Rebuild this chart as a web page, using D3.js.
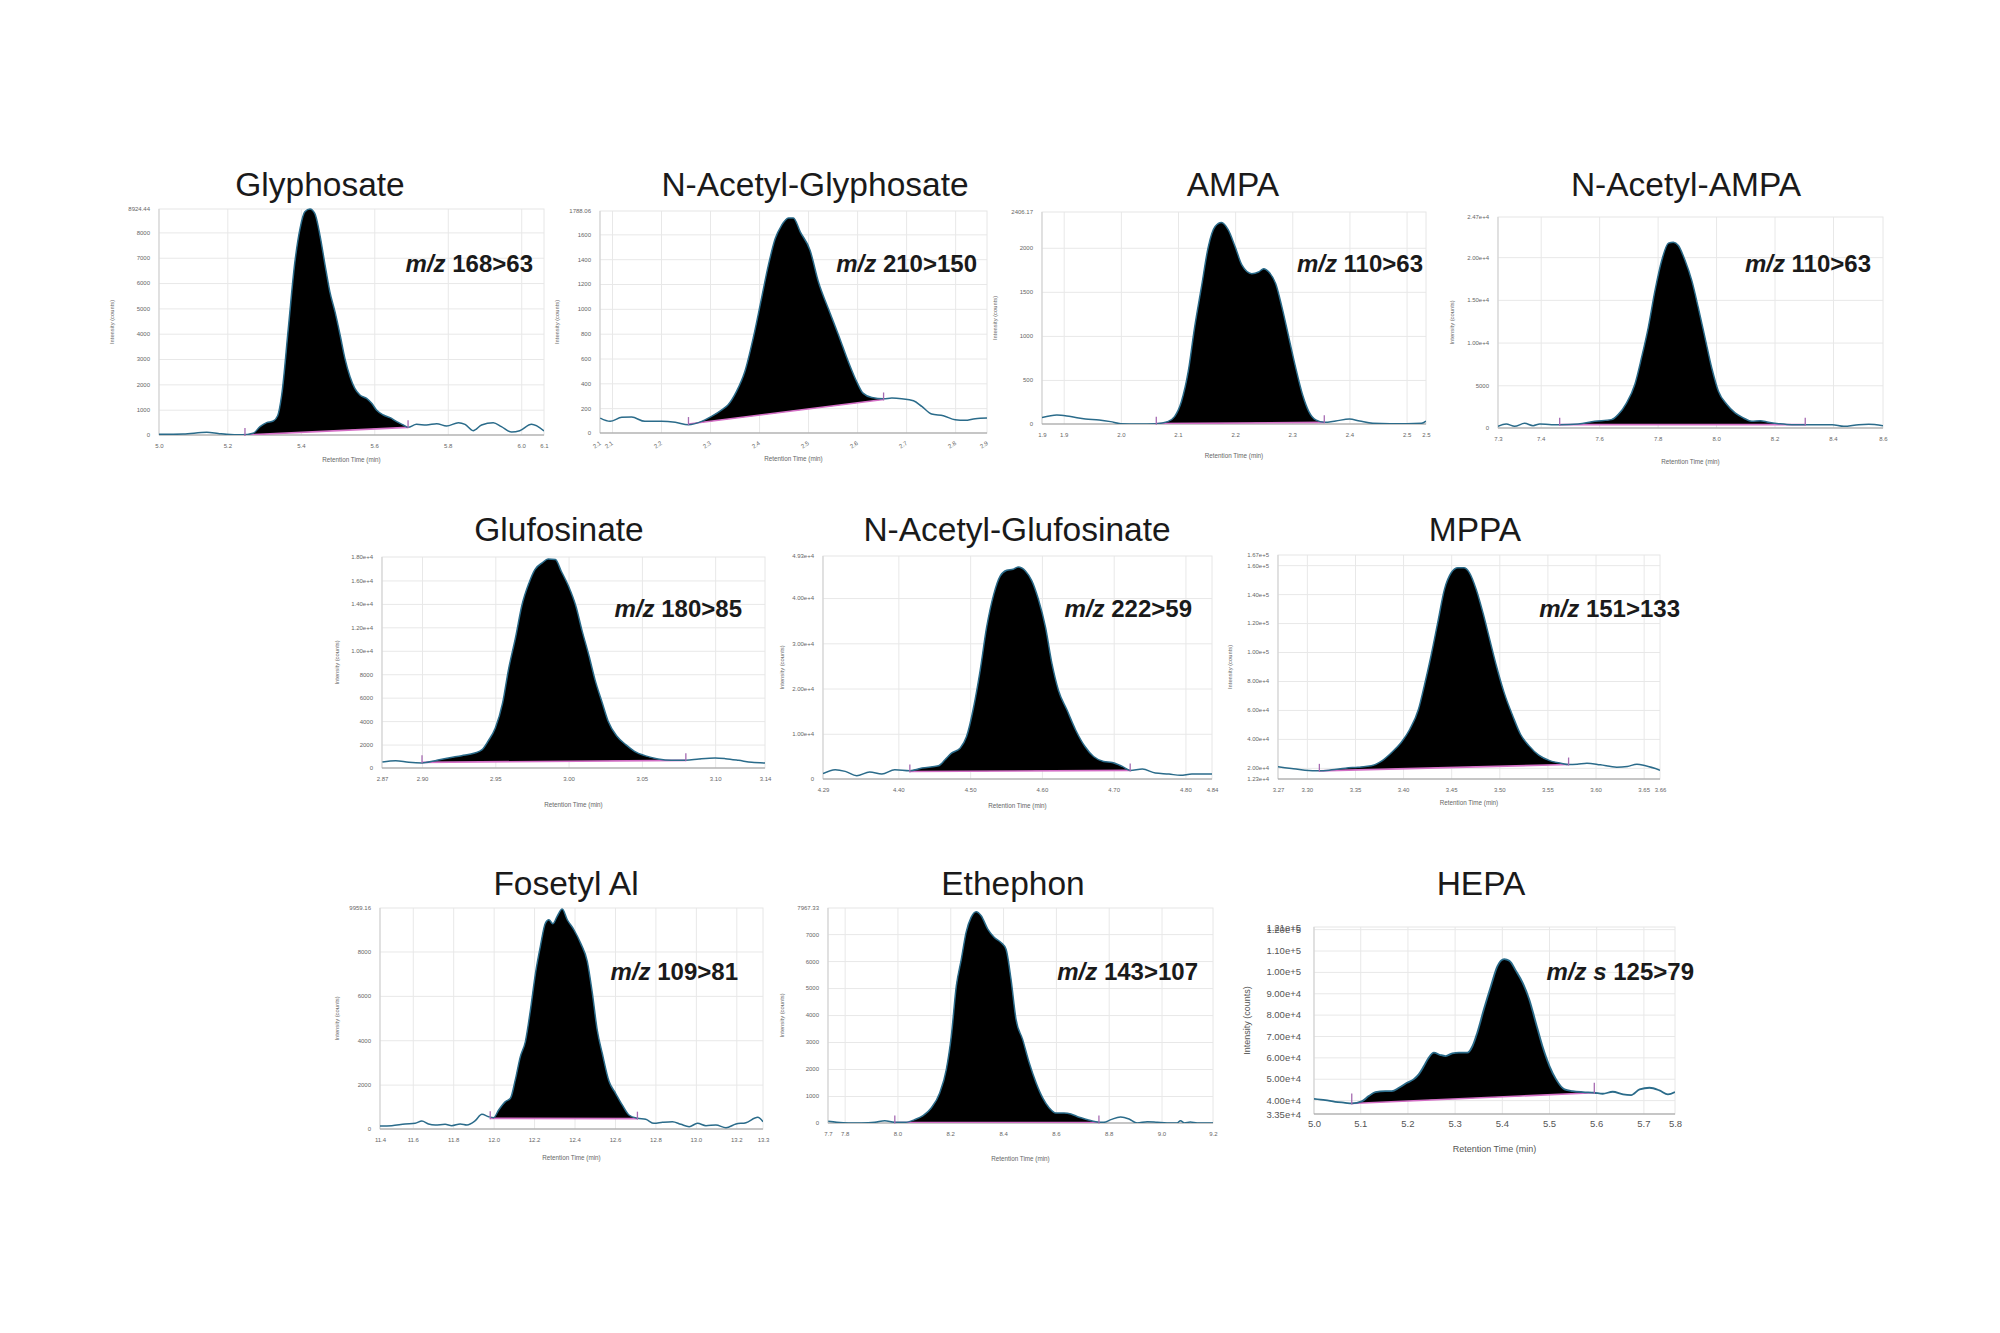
<!DOCTYPE html>
<html><head><meta charset="utf-8">
<script src="https://cdn.jsdelivr.net/npm/d3@7"></script>
<style>body{margin:0;background:#fff}svg{display:block}</style>
</head><body>
<svg id="c" width="2000" height="1333"></svg>
<script>
// ---------------- DATA ----------------
const compoundNames = ["Glyphosate","N-Acetyl-Glyphosate","AMPA","N-Acetyl-AMPA","Glufosinate","N-Acetyl-Glufosinate","MPPA","Fosetyl Al","Ethephon","HEPA"];
const transitionPrefixes = ["m/z","m/z","m/z","m/z","m/z","m/z","m/z","m/z","m/z","m/z s"];
const transitionIons = ["168>63","210>150","110>63","110>63","180>85","222>59","151>133","109>81","143>107","125>79"];

const xDomains = [[5.014,6.062],[2.0755,2.865],[1.862,2.534],[7.254,8.571],[2.8727,3.134],[4.295,4.837],[3.27,3.667],[11.438,13.332],[7.737,9.195],[5.002,5.767]];
const xTickValues = [
  [5.2,5.4,5.6,5.8,6.0],
  [2.1,2.2,2.3,2.4,2.5,2.6,2.7,2.8],
  [1.9,2.0,2.1,2.2,2.3,2.4,2.5],
  [7.4,7.6,7.8,8.0,8.2,8.4],
  [2.90,2.95,3.00,3.05,3.10],
  [4.40,4.50,4.60,4.70,4.80],
  [3.30,3.35,3.40,3.45,3.50,3.55,3.60,3.65],
  [11.6,11.8,12.0,12.2,12.4,12.6,12.8,13.0,13.2],
  [7.8,8.0,8.2,8.4,8.6,8.8,9.0],
  [5.1,5.2,5.3,5.4,5.5,5.6,5.7]
];
const xTickDecimals = [1,1,1,1,2,2,2,1,1,1];
const xEndLabels = [["5.0","6.1"],["2.1","2.9"],["1.9","2.5"],["7.3","8.6"],["2.87","3.14"],["4.29","4.84"],["3.27","3.66"],["11.4","13.3"],["7.7","9.2"],["5.0","5.8"]];

const yDomains = [[0,8924.44],[0,1788.06],[0,2406.17],[0,24700],[0,18000],[0,49300],[12300,167000],[0,9959.16],[0,7967.33],[33500,121000]];
const yTickValues = [
  [0,1000,2000,3000,4000,5000,6000,7000,8000],
  [0,200,400,600,800,1000,1200,1400,1600],
  [0,500,1000,1500,2000],
  [0,5000,10000,15000,20000],
  [0,2000,4000,6000,8000,10000,12000,14000,16000],
  [0,10000,20000,30000,40000],
  [20000,40000,60000,80000,100000,120000,140000,160000],
  [0,2000,4000,6000,8000],
  [0,1000,2000,3000,4000,5000,6000,7000],
  [40000,50000,60000,70000,80000,90000,100000,110000,120000]
];
const yEndLabels = [["","8924.44"],["","1788.06"],["","2406.17"],["","2.47e+4"],["","1.80e+4"],["","4.93e+4"],["1.23e+4","1.67e+5"],["","9959.16"],["","7967.33"],["3.35e+4","1.21e+5"]];

const traceGlyphosate = [[5.014,26],[5.08,40],[5.144,105],[5.175,60],[5.198,26],[5.24,5],[5.27,66],[5.289,329],[5.307,487],[5.325,553],[5.337,760],[5.348,1579],[5.366,4211],[5.384,6843],[5.398,8159],[5.411,8817],[5.425,8923],[5.438,8752],[5.452,7896],[5.466,6712],[5.479,5659],[5.493,4869],[5.507,3948],[5.52,3027],[5.534,2303],[5.547,1842],[5.561,1579],[5.579,1448],[5.593,1250],[5.606,987],[5.625,790],[5.643,684],[5.661,526],[5.679,395],[5.692,303],[5.715,421],[5.742,395],[5.77,447],[5.797,355],[5.829,487],[5.847,421],[5.869,171],[5.892,395],[5.924,487],[5.946,329],[5.974,118],[5.996,171],[6.028,421],[6.062,158]];
const baselineGlyphosate = [[5.248,0],[5.692,303]];

const traceNAcetylGlyphosate = [[2.076,120],[2.096,94],[2.12,126],[2.14,128],[2.167,94],[2.201,94],[2.229,86],[2.256,67],[2.283,94],[2.303,134],[2.324,187],[2.337,228],[2.354,335],[2.371,495],[2.388,763],[2.405,1084],[2.419,1352],[2.433,1566],[2.446,1673],[2.46,1732],[2.47,1732],[2.484,1620],[2.504,1472],[2.521,1218],[2.541,1004],[2.562,790],[2.582,576],[2.599,415],[2.612,321],[2.63,286],[2.654,276],[2.671,281],[2.691,276],[2.715,260],[2.732,214],[2.752,153],[2.776,139],[2.8,107],[2.82,102],[2.841,115],[2.865,120]];
const baselineNAcetylGlyphosate = [[2.256,72],[2.654,270]];

const traceAMPA = [[1.862,73],[1.888,103],[1.912,84],[1.938,57],[1.962,46],[1.982,27],[2.0,4],[2.029,0],[2.062,4],[2.082,27],[2.094,84],[2.106,256],[2.118,599],[2.129,1095],[2.141,1553],[2.153,2011],[2.165,2241],[2.176,2286],[2.188,2202],[2.2,2011],[2.212,1802],[2.229,1706],[2.241,1725],[2.25,1763],[2.259,1725],[2.271,1592],[2.282,1324],[2.294,981],[2.306,637],[2.318,332],[2.329,141],[2.341,46],[2.356,19],[2.376,34],[2.4,57],[2.418,34],[2.441,8],[2.471,4],[2.5,4],[2.526,8],[2.534,34]];
const baselineAMPA = [[2.062,4],[2.356,19]];

const traceNAcetylAMPA = [[7.254,196],[7.282,470],[7.311,196],[7.345,549],[7.374,274],[7.397,470],[7.437,392],[7.465,392],[7.528,470],[7.585,784],[7.642,980],[7.665,1568],[7.694,2940],[7.722,5096],[7.745,8232],[7.768,11760],[7.791,16072],[7.814,19600],[7.837,21638],[7.854,21756],[7.871,21364],[7.894,19600],[7.917,17248],[7.939,14112],[7.962,10584],[7.985,7056],[8.008,4312],[8.037,2744],[8.065,1764],[8.094,1176],[8.122,784],[8.151,862],[8.179,666],[8.214,510],[8.259,392],[8.305,392],[8.351,392],[8.397,392],[8.437,196],[8.488,392],[8.522,431],[8.571,274]];
const baselineNAcetylAMPA = [[7.465,392],[8.305,392]];

const traceGlufosinate = [[2.873,512],[2.882,626],[2.891,484],[2.9,427],[2.909,626],[2.918,853],[2.927,1053],[2.936,1280],[2.941,1565],[2.945,2276],[2.95,3414],[2.955,5548],[2.959,8393],[2.964,11238],[2.968,13798],[2.973,15790],[2.977,16928],[2.982,17497],[2.986,17838],[2.991,17781],[2.995,16786],[3.0,15505],[3.005,13798],[3.009,11807],[3.014,9531],[3.018,7539],[3.023,5548],[3.027,3983],[3.033,2703],[3.039,1992],[3.045,1423],[3.052,1053],[3.061,768],[3.07,654],[3.08,654],[3.089,768],[3.1,853],[3.107,797],[3.116,654],[3.125,484],[3.134,427]];
const baselineGlufosinate = [[2.9,484],[3.08,654]];

const traceNAcetylGlufosinate = [[4.295,1172],[4.312,2051],[4.326,1685],[4.342,733],[4.36,1538],[4.377,1099],[4.395,2051],[4.416,1832],[4.433,2418],[4.456,2930],[4.465,4249],[4.474,5714],[4.486,6813],[4.495,9377],[4.505,15971],[4.514,24029],[4.523,33553],[4.533,40879],[4.542,44908],[4.551,46154],[4.56,46374],[4.567,46886],[4.577,46007],[4.586,43809],[4.595,39780],[4.605,33553],[4.614,25494],[4.623,19634],[4.635,15238],[4.647,10842],[4.66,7179],[4.672,4982],[4.686,3883],[4.698,3663],[4.712,2784],[4.723,1905],[4.74,2198],[4.758,1319],[4.777,1099],[4.793,806],[4.809,1099],[4.837,1099]];
const baselineNAcetylGlufosinate = [[4.416,1650],[4.723,1905]];

const traceMPPA = [[3.27,20690],[3.284,19540],[3.298,18390],[3.313,17930],[3.326,18620],[3.34,19770],[3.353,20460],[3.367,21380],[3.378,24830],[3.388,30570],[3.398,37470],[3.407,46670],[3.416,60460],[3.422,76560],[3.429,97250],[3.436,120240],[3.443,143230],[3.45,154720],[3.457,158170],[3.463,158170],[3.469,154720],[3.476,143230],[3.483,127130],[3.49,108740],[3.497,90350],[3.505,71960],[3.514,55860],[3.522,43220],[3.531,35170],[3.541,28740],[3.553,24830],[3.564,23220],[3.572,22300],[3.581,22530],[3.591,23220],[3.605,22070],[3.622,20460],[3.633,20920],[3.643,22530],[3.652,21380],[3.667,18390]];
const baselineMPPA = [[3.313,17930],[3.572,22300]];

const traceFosetylAl = [[11.438,135],[11.496,150],[11.562,226],[11.612,256],[11.645,361],[11.678,226],[11.711,180],[11.76,211],[11.793,150],[11.835,226],[11.868,180],[11.909,376],[11.942,662],[11.975,556],[12.0,511],[12.025,857],[12.058,1233],[12.083,1384],[12.107,2211],[12.132,3264],[12.157,3940],[12.182,5369],[12.207,7024],[12.231,8227],[12.256,9279],[12.273,9430],[12.293,9249],[12.314,9580],[12.339,9911],[12.364,9430],[12.397,8979],[12.43,8377],[12.463,7550],[12.488,6121],[12.512,4467],[12.537,3414],[12.571,2136],[12.603,1609],[12.636,1083],[12.669,632],[12.711,481],[12.752,436],[12.793,256],[12.835,301],[12.884,331],[12.926,211],[12.967,105],[13.008,256],[13.05,150],[13.099,180],[13.149,60],[13.198,226],[13.248,286],[13.306,526],[13.332,331]];
const baselineFosetylAl = [[11.983,481],[12.711,466]];

const traceEthephon = [[7.738,62],[7.77,25],[7.814,0],[7.864,0],[7.914,25],[7.952,87],[7.99,25],[8.028,25],[8.065,124],[8.097,273],[8.128,558],[8.16,1115],[8.185,1982],[8.204,3221],[8.223,5080],[8.242,6071],[8.26,7062],[8.279,7620],[8.298,7830],[8.317,7682],[8.342,7186],[8.367,6876],[8.392,6691],[8.411,6443],[8.43,5328],[8.449,3841],[8.474,3098],[8.499,2230],[8.525,1487],[8.55,929],[8.575,558],[8.6,372],[8.631,372],[8.657,335],[8.688,211],[8.72,124],[8.751,50],[8.782,25],[8.808,124],[8.845,223],[8.877,149],[8.908,0],[8.946,50],[8.984,25],[9.021,0],[9.059,0],[9.072,87],[9.087,0],[9.109,37],[9.135,0],[9.195,0]];
const baselineEthephon = [[7.99,15],[8.763,15]];

const traceHEPA = [[5.002,40625],[5.026,40000],[5.047,39219],[5.068,38750],[5.082,38438],[5.104,39531],[5.118,41875],[5.132,43750],[5.153,44219],[5.167,44219],[5.182,45781],[5.199,48125],[5.213,49688],[5.224,52031],[5.235,55938],[5.245,59844],[5.256,62188],[5.27,61094],[5.281,60625],[5.295,61875],[5.309,62188],[5.327,62188],[5.338,65313],[5.348,71563],[5.362,82500],[5.377,93438],[5.391,102813],[5.405,105938],[5.416,105156],[5.43,100469],[5.444,95000],[5.458,87188],[5.472,76250],[5.486,65313],[5.501,55938],[5.515,49688],[5.533,45000],[5.55,44219],[5.572,43750],[5.596,43438],[5.614,42969],[5.635,43906],[5.657,42656],[5.674,42344],[5.692,45000],[5.713,45781],[5.734,44531],[5.752,42656],[5.767,43750]];
const baselineHEPA = [[5.082,38438],[5.596,43438]];

const traces = [traceGlyphosate,traceNAcetylGlyphosate,traceAMPA,traceNAcetylAMPA,traceGlufosinate,traceNAcetylGlufosinate,traceMPPA,traceFosetylAl,traceEthephon,traceHEPA];
const baselines = [baselineGlyphosate,baselineNAcetylGlyphosate,baselineAMPA,baselineNAcetylAMPA,baselineGlufosinate,baselineNAcetylGlufosinate,baselineMPPA,baselineFosetylAl,baselineEthephon,baselineHEPA];

// ---------------- LAYOUT ----------------
const panelLayout = [
  {x0:159, x1:544, y0:209, y1:435, tx:320, ty:196, mx:533, my:272, ylx:112, xly:460},
  {x0:600, x1:987, y0:211, y1:433, tx:815, ty:196, mx:977, my:272, ylx:557, xly:459, rot:true},
  {x0:1042,x1:1426,y0:212, y1:424, tx:1233,ty:196, mx:1423,my:272, ylx:995, xly:456},
  {x0:1498,x1:1883,y0:217, y1:428, tx:1686,ty:196, mx:1871,my:272, ylx:1452,xly:462},
  {x0:382, x1:765, y0:557, y1:768, tx:559, ty:541, mx:742, my:617, ylx:337, xly:805},
  {x0:823, x1:1212,y0:556, y1:779, tx:1017,ty:541, mx:1192,my:617, ylx:782, xly:806},
  {x0:1278,x1:1660,y0:555, y1:779, tx:1475,ty:541, mx:1680,my:617, ylx:1230,xly:803},
  {x0:380, x1:763, y0:908, y1:1129,tx:566, ty:895, mx:738, my:980, ylx:337, xly:1158},
  {x0:828, x1:1213,y0:908, y1:1123,tx:1013,ty:895, mx:1198,my:980, ylx:782, xly:1159},
  {x0:1314,x1:1675,y0:927, y1:1114,tx:1481,ty:895, mx:1694,my:980, ylx:1248,xly:1150, big:true}
];

const svg = d3.select("#c");
svg.append("rect").attr("width",2000).attr("height",1333).attr("fill","#fff");

const fmtY = v => v >= 10000 ? d3.format(".2e")(v) : String(v);
const FONT = "'Liberation Sans', Arial, Helvetica, sans-serif";

function interp(pts, t) {
  for (let i = 0; i < pts.length - 1; i++) {
    const a = pts[i], b = pts[i+1];
    if (t >= a[0] && t <= b[0]) return a[1] + (b[1]-a[1]) * (t-a[0])/(b[0]-a[0]);
  }
  return pts[pts.length-1][1];
}

compoundNames.forEach((name, i) => {
  const L = panelLayout[i];
  const xd = xDomains[i], yd = yDomains[i];
  const x = d3.scaleLinear().domain(xd).range([L.x0, L.x1]);
  const y = d3.scaleLinear().domain(yd).range([L.y1, L.y0]);
  const fs = L.big ? 9.5 : 6;
  const g = svg.append("g").attr("font-family", FONT);
  const W = L.x1 - L.x0, H = L.y1 - L.y0;

  // grid
  g.append("g").attr("transform", `translate(0,${L.y1})`)
    .call(d3.axisBottom(x).tickValues(xTickValues[i]).tickSize(-H).tickFormat(""))
    .call(s => s.select(".domain").remove())
    .call(s => s.selectAll("line").attr("stroke", "#e8e8e8"));
  g.append("g").attr("transform", `translate(${L.x0},0)`)
    .call(d3.axisLeft(y).tickValues(yTickValues[i].filter(v => v > yd[0])).tickSize(-W).tickFormat(""))
    .call(s => s.select(".domain").remove())
    .call(s => s.selectAll("line").attr("stroke", "#e8e8e8"));
  g.append("rect").attr("x", L.x0).attr("y", L.y0).attr("width", W).attr("height", H)
    .attr("fill", "none").attr("stroke", "#e6e6e6");
  g.append("line").attr("x1", L.x0).attr("x2", L.x0).attr("y1", L.y0).attr("y2", L.y1).attr("stroke", "#cfcfcf");
  g.append("line").attr("x1", L.x0).attr("x2", L.x1).attr("y1", L.y1).attr("y2", L.y1).attr("stroke", "#9a9a9a").attr("stroke-width", 1.2);

  // clip
  const cid = "clip" + i;
  svg.append("clipPath").attr("id", cid).append("rect")
    .attr("x", L.x0).attr("y", L.y0 - 2).attr("width", W).attr("height", H + 2);
  const pg = g.append("g").attr("clip-path", `url(#${cid})`);

  const tr = traces[i], bl = baselines[i];
  const b0 = bl[0], b1 = bl[1];
  const bv = t => b0[1] + (b1[1]-b0[1]) * (t-b0[0])/(b1[0]-b0[0]);
  const inner = tr.filter(p => p[0] > b0[0] && p[0] < b1[0]);
  const fillPts = [[b0[0], interp(tr, b0[0])], ...inner, [b1[0], interp(tr, b1[0])]];
  pg.append("path").datum(fillPts)
    .attr("d", d3.area().x(d => x(d[0])).y0(d => y(bv(d[0]))).y1(d => y(Math.max(d[1], bv(d[0])))).curve(d3.curveMonotoneX))
    .attr("fill", "#000");
  pg.append("path").datum(bl)
    .attr("d", d3.line().x(d => x(d[0])).y(d => y(d[1])))
    .attr("stroke", "#d46fc6").attr("stroke-width", 1.6).attr("fill", "none");
  pg.append("path").datum(tr)
    .attr("d", d3.line().x(d => x(d[0])).y(d => y(d[1])).curve(d3.curveMonotoneX))
    .attr("stroke", "#2a6b8a").attr("stroke-width", L.big ? 1.8 : 1.5).attr("fill", "none");
  bl.forEach(p => {
    g.append("line").attr("x1", x(p[0])).attr("x2", x(p[0]))
      .attr("y1", y(p[1]) - (L.big ? 10 : 7)).attr("y2", y(p[1]) + 1)
      .attr("stroke", "#a66bb2").attr("stroke-width", 1.3);
  });

  // x tick labels
  const xa = g.append("g").attr("transform", `translate(0,${L.y1})`)
    .call(d3.axisBottom(x).tickValues(xTickValues[i]).tickSize(0).tickPadding(L.big ? 6 : 9)
      .tickFormat(d => d.toFixed(xTickDecimals[i])));
  const xe = g.append("g").attr("transform", `translate(0,${L.y1})`)
    .call(d3.axisBottom(x).tickValues(xd).tickSize(0).tickPadding(L.big ? 6 : 9)
      .tickFormat((d, k) => xEndLabels[i][k]));
  [xa, xe].forEach(a => {
    a.select(".domain").remove();
    a.selectAll("text").attr("font-size", fs).attr("fill", L.big ? "#555" : "#666").attr("font-family", FONT);
    if (L.rot) {
      a.selectAll("text").attr("y", 0).attr("dy", 0).attr("text-anchor", "end")
        .attr("transform", "translate(1,11) rotate(-35)");
    }
  });

  // y tick labels
  const ya = g.append("g").attr("transform", `translate(${L.x0},0)`)
    .call(d3.axisLeft(y).tickValues(yTickValues[i]).tickSize(0).tickPadding(L.big ? 13 : 9).tickFormat(fmtY));
  const yEnds = [];
  if (yEndLabels[i][0]) yEnds.push([yd[0], yEndLabels[i][0]]);
  if (yEndLabels[i][1]) yEnds.push([yd[1], yEndLabels[i][1]]);
  const ye = g.append("g").attr("transform", `translate(${L.x0},0)`)
    .call(d3.axisLeft(y).tickValues(yEnds.map(e => e[0])).tickSize(0).tickPadding(L.big ? 13 : 9)
      .tickFormat((d, k) => yEnds[k][1]));
  [ya, ye].forEach(a => {
    a.select(".domain").remove();
    a.selectAll("text").attr("font-size", fs).attr("fill", L.big ? "#555" : "#666").attr("font-family", FONT);
  });

  // axis titles
  g.append("text").attr("x", (L.x0 + L.x1) / 2).attr("y", L.xly).attr("text-anchor", "middle")
    .attr("dominant-baseline", "middle")
    .attr("font-size", L.big ? 9 : 6.3).attr("fill", L.big ? "#555" : "#666").text("Retention Time (min)");
  g.append("text").attr("transform", `translate(${L.ylx},${(L.y0 + L.y1) / 2}) rotate(-90)`)
    .attr("text-anchor", "middle").attr("dominant-baseline", "middle")
    .attr("font-size", L.big ? 9 : 5.8).attr("fill", L.big ? "#555" : "#666").text("Intensity (counts)");

  // title
  g.append("text").attr("x", L.tx).attr("y", L.ty).attr("text-anchor", "middle")
    .attr("font-size", 33.5).attr("fill", "#1a1a1a").text(name);

  // transition label
  const mt = g.append("text").attr("x", L.mx).attr("y", L.my).attr("text-anchor", "end")
    .attr("font-size", 24).attr("font-weight", "bold").attr("fill", "#1a1a1a");
  mt.append("tspan").attr("font-style", "italic").text(transitionPrefixes[i]);
  mt.append("tspan").text(" " + transitionIons[i]);
});
</script>
</body></html>
